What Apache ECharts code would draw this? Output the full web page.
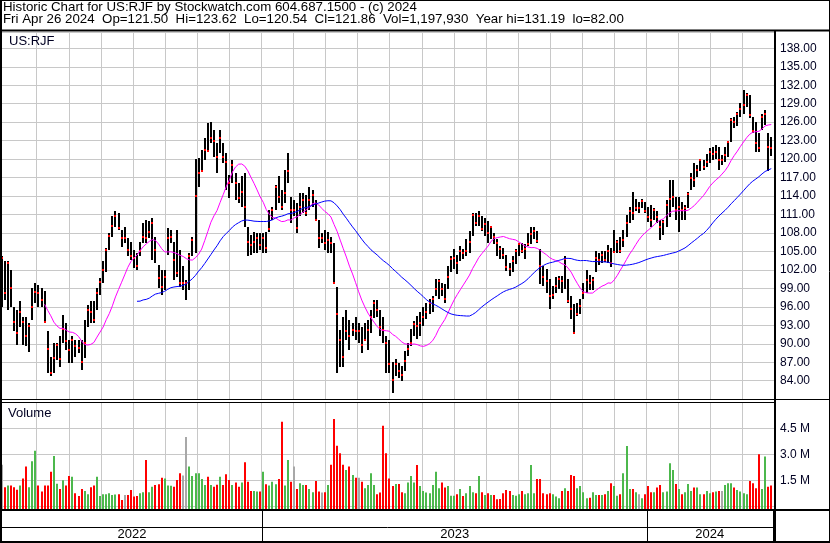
<!DOCTYPE html>
<html>
<head>
<meta charset="utf-8">
<script src="https://cdn.jsdelivr.net/npm/echarts@6/dist/echarts.min.js"></script>
<style>
html,body{margin:0;padding:0;background:#fff;}
#chart{width:830px;height:543px;}
</style>
</head>
<body>
<div id="chart"></div>
<script>
// ---- data (each bar = two trading days) ----
const HIGH = [104.3,103.4,103.4,102.0,96.0,95.5,96.9,94.4,94.4,93.3,99.0,99.8,99.6,99.0,98.5,92.0,87.9,90.1,90.1,91.2,
94.7,93.3,90.6,91.2,90.6,90.6,90.6,93.9,96.3,96.9,96.9,99.0,100.7,103.4,105.5,108.0,110.7,111.5,111.2,108.5,
109.0,107.2,106.6,105.3,104.7,106.6,109.6,110.1,109.9,110.4,107.4,102.8,102.0,102.0,108.8,108.5,106.6,108.5,105.3,102.6,
100.4,104.7,107.4,120.0,120.2,121.5,123.4,125.8,126.1,124.8,122.6,124.8,122.6,121.0,117.4,119.9,117.7,116.1,117.2,117.7,
109.0,107.7,108.2,108.0,108.0,108.0,108.2,111.8,112.3,115.8,117.2,115.0,118.3,121.0,113.9,113.4,112.8,114.5,114.5,114.2,
115.5,115.0,113.4,110.1,108.0,108.5,108.2,107.4,106.3,99.3,92.3,94.4,95.5,93.9,93.3,94.4,93.3,92.8,93.3,93.9,
95.5,97.1,97.1,95.5,94.4,91.2,90.6,87.0,87.5,86.9,86.4,88.8,90.2,92.4,93.7,94.5,95.1,95.9,96.7,97.2,
97.8,100.5,100.5,99.9,99.7,102.6,104.3,105.4,104.5,105.9,105.4,107.0,108.3,111.3,111.3,111.6,110.8,110.5,110.0,109.1,
108.0,107.0,105.9,105.6,104.5,103.2,104.3,105.4,106.4,106.4,106.2,108.0,108.9,108.9,108.3,105.4,102.6,102.1,100.5,99.4,
100.8,101.0,101.0,104.3,100.5,97.8,96.4,96.7,97.2,99.9,102.0,101.2,100.9,105.0,104.7,105.0,105.0,106.1,105.5,108.5,
106.9,107.4,108.5,110.9,112.3,114.7,113.6,113.1,113.6,113.1,112.3,112.5,112.0,111.5,110.1,110.1,113.4,116.6,116.6,113.9,
113.9,113.1,112.5,114.7,117.7,119.3,119.1,120.1,119.9,120.9,121.8,122.0,122.3,122.0,120.7,122.0,122.8,126.6,126.9,127.7,
129.1,131.19,130.7,130.4,126.9,126.1,124.2,127.4,128.0,124.2,123.62];
const LOW = [96.0,97.1,95.5,96.0,92.0,89.8,92.8,89.8,89.6,88.7,93.9,96.6,96.0,96.0,93.3,85.2,84.7,85.2,87.4,86.3,
90.1,89.0,86.9,86.9,87.9,88.5,85.8,87.7,92.8,93.3,93.3,95.5,98.0,99.8,101.7,105.3,107.4,109.0,108.5,105.8,
106.3,104.2,103.6,102.3,102.0,104.2,106.3,106.3,107.2,103.6,103.1,99.0,98.0,98.8,104.4,106.3,100.4,100.9,99.3,98.8,
97.1,98.8,104.2,104.7,115.5,118.0,119.9,121.2,122.6,120.4,117.7,121.0,119.3,115.0,113.7,116.1,113.4,112.8,112.3,109.0,
104.2,104.4,104.7,104.7,105.3,104.7,104.7,108.2,110.1,111.8,112.8,111.8,112.8,116.1,109.6,110.7,108.0,110.7,111.2,110.7,
111.8,112.3,110.1,105.5,106.3,105.3,104.7,104.7,99.8,85.2,86.3,86.3,90.6,89.0,91.2,90.6,90.1,88.5,90.6,89.0,
91.7,94.2,94.4,91.2,90.1,85.2,85.3,82.0,84.8,84.5,84.0,85.6,88.0,89.7,91.3,90.7,91.3,92.9,94.0,94.8,
95.1,97.8,97.2,97.8,96.7,98.9,101.6,102.1,101.3,103.5,103.7,104.3,104.8,107.5,109.1,109.1,108.3,107.5,106.4,107.0,
106.2,104.3,103.7,103.7,101.8,101.0,101.6,102.9,104.3,104.8,103.7,105.9,106.2,107.0,106.4,99.7,99.4,98.3,95.6,97.2,
98.3,98.9,98.3,98.9,96.7,94.0,91.8,94.5,94.8,97.2,98.2,98.7,98.7,101.7,102.8,103.1,103.3,103.1,102.5,104.7,
104.7,104.7,105.8,107.4,109.6,110.1,111.5,111.2,112.0,111.2,109.8,109.0,110.1,109.6,106.9,107.7,109.0,110.6,112.3,110.1,
108.2,110.1,110.1,112.0,115.0,115.5,117.1,118.0,118.2,118.8,119.3,119.9,120.1,118.2,119.1,119.6,120.4,122.8,125.0,125.3,
126.9,127.4,128.5,126.6,124.2,121.2,121.2,124.7,125.5,118.0,120.54];
const CLOSE = [104.0,98.3,103.2,99.0,93.6,91.8,95.1,93.6,91.3,92.9,96.0,98.4,98.3,97.1,93.5,89.2,85.2,87.7,89.8,87.5,
92.4,90.4,89.0,90.6,89.6,89.3,87.1,90.1,95.5,95.2,93.9,98.2,100.0,102.0,105.3,107.5,109.2,110.7,108.8,107.2,
107.2,105.3,104.2,103.9,102.6,105.0,107.4,107.2,108.1,109.6,105.3,100.7,99.3,100.9,107.2,107.4,103.6,101.5,99.8,99.8,
99.8,104.2,106.9,114.0,117.7,118.0,121.5,121.4,123.4,122.9,120.4,123.4,120.4,119.5,116.1,119.1,116.1,113.7,114.6,112.3,
106.6,106.0,106.6,107.2,106.0,107.2,105.5,108.6,111.8,115.5,113.9,112.3,114.5,118.0,111.8,111.8,108.8,112.3,113.4,111.2,
113.4,114.2,110.1,107.2,107.2,106.3,106.9,106.3,99.8,94.9,90.6,87.9,92.0,91.2,92.3,92.0,92.0,89.8,90.6,92.3,
94.4,96.6,95.5,92.8,92.3,90.1,86.7,84.2,86.7,85.6,85.0,87.2,89.1,90.2,93.2,92.9,93.4,94.3,95.1,96.7,
97.2,98.9,100.2,98.9,97.2,100.8,103.8,104.0,103.2,105.1,104.8,105.1,106.5,111.0,109.7,110.8,108.6,109.4,108.0,108.9,
107.3,106.4,105.4,104.5,102.4,102.1,103.5,105.1,106.2,105.1,105.4,106.2,107.8,108.3,106.7,102.6,100.8,100.2,97.8,98.0,
99.4,100.5,100.2,103.7,96.9,95.6,91.8,94.8,96.1,98.3,100.4,99.8,100.4,103.9,103.6,104.4,103.6,105.0,103.1,104.9,
106.6,105.0,106.9,109.6,111.5,111.2,112.0,112.0,113.2,111.5,110.6,110.1,111.7,110.6,109.0,109.8,112.5,113.6,113.9,111.7,
112.3,111.7,112.0,114.4,116.9,116.6,118.2,119.9,118.8,119.6,121.2,120.9,121.2,119.9,119.9,120.7,122.7,126.4,126.1,127.4,
128.2,128.8,130.4,127.2,124.5,122.6,121.8,126.9,127.4,122.0,121.86];
// volume in millions of shares
const VOLUME = [2.4,1.1,1.2,1.2,1.1,0.95,1.2,1.6,2.3,1.1,2.6,3.2,1.2,0.85,1.2,1.2,2.0,2.9,1.3,1.0,
1.5,1.2,1.75,1.7,0.75,0.6,1.0,0.88,0.7,1.1,1.2,1.7,0.6,0.7,0.7,0.75,0.65,0.68,0.69,0.37,
0.65,0.65,0.94,0.56,0.6,0.75,0.81,2.67,0.81,1.13,1.23,1.27,1.65,1.6,1.2,1.19,1.13,1.52,1.9,1.77,
4.0,2.3,1.75,1.9,1.9,1.58,1.23,1.71,1.23,1.13,1.25,1.71,1.23,1.85,1.52,1.23,1.38,1.13,1.38,2.54,
1.42,0.88,0.88,0.85,0.85,2.0,1.27,1.2,1.42,1.27,1.58,4.88,1.2,2.67,1.42,2.29,1.0,1.33,1.23,1.23,
1.0,0.81,1.46,0.85,0.8,0.81,1.23,2.4,5.04,3.5,3.06,2.4,2.1,2.3,1.8,1.65,1.65,1.42,1.04,1.23,
1.9,1.23,0.69,0.8,4.65,3.06,1.6,1.17,1.29,1.29,0.81,0.75,1.38,1.75,1.38,2.38,1.17,0.88,0.8,0.75,
1.23,2.0,1.04,1.38,1.08,1.17,0.61,0.61,0.7,1.0,0.6,0.75,1.17,0.81,0.75,1.75,0.81,0.65,0.75,0.65,
0.65,0.4,0.42,0.75,0.94,0.88,0.65,0.61,0.69,0.88,0.69,0.75,2.38,0.75,1.58,1.58,0.75,0.69,0.75,0.69,
0.56,0.46,0.88,1.04,0.88,1.81,1.75,1.04,1.17,0.81,0.46,0.5,0.81,0.65,0.65,0.65,0.69,0.88,1.33,1.17,
0.61,0.69,1.9,3.48,1.0,1.0,0.81,0.69,0.46,0.69,1.17,0.81,0.81,1.08,1.23,0.81,0.85,2.48,2.1,1.29,
1.0,0.69,0.81,1.29,0.88,1.08,1.08,0.69,0.69,0.88,0.75,0.81,0.85,0.88,0.88,1.23,1.33,1.33,1.08,0.94,
0.85,0.75,0.69,1.46,1.33,1.04,3.0,1.0,2.87,1.13,1.2];
const YEARS = ['2022','2023','2024'];
const YEAR_START = [0, 85, 210];       // bar index where each year begins
const MA_SHORT = 15, MA_LONG = 45;     // 30 and 90 trading days
const HEADER1 = 'Historic Chart for US:RJF by Stockwatch.com 604.687.1500 - (c) 2024';
const HEADER2 = 'Fri Apr 26 2024  Op=121.50  Hi=123.62  Lo=120.54  Cl=121.86  Vol=1,197,930  Year hi=131.19  lo=82.00';

// ---- derived ----
const N = CLOSE.length;
const idx = CLOSE.map((_, i) => i);
function sma(arr, n) {
  return arr.map((_, i) => {
    if (i < n - 1) return '-';
    let s = 0; for (let k = i - n + 1; k <= i; k++) s += arr[k];
    return +(s / n).toFixed(3);
  });
}
const ohlc = idx.map(i => [i, HIGH[i], LOW[i], CLOSE[i]]);
const volData = idx.map(i => {
  const dir = i === 0 ? 0 : Math.sign(CLOSE[i] - CLOSE[i - 1]);
  return [i, VOLUME[i], dir];
});
const yearMid = YEAR_START.map((s, k) => Math.floor((s + (k + 1 < YEAR_START.length ? YEAR_START[k + 1] : N)) / 2));
const yearCats = idx.map(i => { const k = yearMid.indexOf(i); return k >= 0 ? YEARS[k] : ''; });
const gridCats = Array.from({length: 25}, (_, k) => String(k));

const FONT = '"Liberation Sans", Arial, sans-serif';
const GRID_COLOR = '#c8c8c8';
const PLOT_W = 772.8;

const chart = echarts.init(document.getElementById('chart'), null, {renderer: 'canvas'});
const hidden = {show: false};
const catHidden = (data) => ({type: 'category', data, show: false, boundaryGap: true});

chart.setOption({
  animation: false,
  backgroundColor: '#fff',
  grid: [
    {left: 0, width: PLOT_W, top: 32, height: 367.2},          // 0 price data
    {left: 2, right: 55, top: 32, height: 367.2},              // 1 price h-grid + labels
    {left: 4.6, right: 55.2, top: 32, height: 367.2},          // 2 price v-grid
    {left: 0, width: PLOT_W, top: 402.3, height: 106.7},       // 3 volume data
    {left: 2, right: 55, top: 402.3, height: 104},             // 4 volume h-grid + labels
    {left: 4.6, right: 55.2, top: 402.3, height: 107},         // 5 volume v-grid
    {left: 0, width: PLOT_W, top: 511, height: 30}             // 6 year band
  ],
  xAxis: [
    Object.assign(catHidden(idx), {gridIndex: 0}),
    {type: 'value', gridIndex: 1, show: false},
    {type: 'category', gridIndex: 2, data: gridCats, boundaryGap: false,
      axisLine: hidden, axisTick: hidden, axisLabel: hidden,
      splitLine: {show: true, interval: (i) => i > 0 && i < 24, lineStyle: {color: GRID_COLOR, width: 1}}},
    Object.assign(catHidden(idx), {gridIndex: 3}),
    {type: 'value', gridIndex: 4, show: false},
    {type: 'category', gridIndex: 5, data: gridCats, boundaryGap: false,
      axisLine: hidden, axisTick: hidden, axisLabel: hidden,
      splitLine: {show: true, interval: (i) => i > 0 && i < 24, lineStyle: {color: GRID_COLOR, width: 1}}},
    {type: 'category', gridIndex: 6, data: yearCats, boundaryGap: true, position: 'bottom',
      axisLine: hidden, axisTick: hidden,
      axisLabel: {show: true, inside: true, interval: 0, margin: 0, color: '#000', fontSize: 13, fontFamily: FONT},
      splitLine: {show: true, interval: (i) => YEAR_START.indexOf(i) > 0, lineStyle: {color: '#000', width: 1}}}
  ],
  yAxis: [
    {type: 'value', gridIndex: 0, min: 81, max: 140.65, show: false},
    {type: 'value', gridIndex: 1, position: 'right', min: 81, max: 140.65, interval: 3,
      axisLine: hidden, axisTick: hidden,
      axisLabel: {margin: 5, color: '#000022', fontSize: 12, fontFamily: FONT, showMinLabel: false, showMaxLabel: false,
        formatter: v => v.toFixed(2)},
      splitLine: {show: true, lineStyle: {color: GRID_COLOR, width: 1}}},
    {type: 'value', gridIndex: 2, show: false},
    {type: 'value', gridIndex: 3, min: -0.156, max: 6.0, show: false},
    {type: 'value', gridIndex: 4, position: 'right', min: 0, max: 6.0, interval: 1.5,
      axisLine: hidden, axisTick: hidden,
      axisLabel: {margin: 5, color: '#000022', fontSize: 12, fontFamily: FONT, showMinLabel: false, showMaxLabel: false,
        formatter: v => v.toFixed(1) + ' M'},
      splitLine: {show: true, lineStyle: {color: GRID_COLOR, width: 1}}},
    {type: 'value', gridIndex: 5, show: false},
    {type: 'value', gridIndex: 6, show: false}
  ],
  series: [
    {
      type: 'custom', xAxisIndex: 0, yAxisIndex: 0, z: 3, clip: false,
      data: ohlc,
      renderItem: (params, api) => {
        const hi = api.coord([api.value(0), api.value(1)]);
        const lo = api.coord([api.value(0), api.value(2)]);
        const cl = api.coord([api.value(0), api.value(3)]);
        const x = Math.round(hi[0]);
        return {type: 'group', children: [
          {type: 'line', shape: {x1: x, y1: Math.round(hi[1]), x2: x, y2: Math.round(lo[1])},
            style: {stroke: '#000', lineWidth: 2}},
          {type: 'rect', shape: {x: x - 1, y: Math.round(cl[1]) - 1, width: 2, height: 2},
            style: {fill: '#ff0000'}}
        ]};
      }
    },
    {type: 'line', xAxisIndex: 0, yAxisIndex: 0, z: 4, data: sma(CLOSE, MA_SHORT), showSymbol: false,
      lineStyle: {color: '#ff00ff', width: 1}, itemStyle: {color: '#ff00ff'}},
    {type: 'line', xAxisIndex: 0, yAxisIndex: 0, z: 4, data: sma(CLOSE, MA_LONG), showSymbol: false,
      lineStyle: {color: '#0000ff', width: 1}, itemStyle: {color: '#0000ff'}},
    {
      type: 'custom', xAxisIndex: 3, yAxisIndex: 3, z: 3,
      data: volData,
      renderItem: (params, api) => {
        const top = api.coord([api.value(0), api.value(1)]);
        const base = api.coord([api.value(0), -0.156]);
        const d = api.value(2);
        const x = Math.round(top[0]);
        return {type: 'rect', shape: {x: x - 1, y: top[1], width: 2, height: base[1] - top[1]},
          style: {fill: d > 0 ? '#4cb84c' : (d < 0 ? '#ff0000' : '#a8a8a8')}};
      }
    }
  ],
  graphic: [
    {type: 'text', x: 3, y: 7, z: 10, style: {text: HEADER1, font: '13.3px ' + FONT, fill: '#000', verticalAlign: 'middle', align: 'left'}},
    {type: 'text', x: 3, y: 19, z: 10, style: {text: HEADER2, font: '13.3px ' + FONT, fill: '#000', verticalAlign: 'middle', align: 'left'}},
    {type: 'text', x: 9, y: 41, z: 10, style: {text: 'US:RJF', font: '13px ' + FONT, fill: '#000022', verticalAlign: 'middle', align: 'left'}},
    {type: 'text', x: 8, y: 413, z: 10, style: {text: 'Volume', font: '13px ' + FONT, fill: '#000022', verticalAlign: 'middle', align: 'left'}},
    // frame
    {type: 'line', z: 20, shape: {x1: 0, y1: 0.5, x2: 830, y2: 0.5}, style: {stroke: '#000', lineWidth: 1}},
    {type: 'line', z: 20, shape: {x1: 1, y1: 0, x2: 1, y2: 543}, style: {stroke: '#000', lineWidth: 2}},
    {type: 'line', z: 20, shape: {x1: 829.5, y1: 0, x2: 829.5, y2: 543}, style: {stroke: '#000', lineWidth: 1}},
    {type: 'line', z: 20, shape: {x1: 0, y1: 30.5, x2: 830, y2: 30.5}, style: {stroke: '#000', lineWidth: 2}},
    {type: 'line', z: 20, shape: {x1: 775, y1: 30, x2: 775, y2: 543}, style: {stroke: '#000', lineWidth: 2}},
    {type: 'line', z: 20, shape: {x1: 0, y1: 399.5, x2: 830, y2: 399.5}, style: {stroke: '#000', lineWidth: 1}},
    {type: 'line', z: 20, shape: {x1: 0, y1: 402.5, x2: 775, y2: 402.5}, style: {stroke: '#000', lineWidth: 1}},
    {type: 'line', z: 20, shape: {x1: 0, y1: 510, x2: 830, y2: 510}, style: {stroke: '#000', lineWidth: 2}},
    {type: 'line', z: 20, shape: {x1: 0, y1: 527.5, x2: 775, y2: 527.5}, style: {stroke: '#000', lineWidth: 1}},
    {type: 'line', z: 20, shape: {x1: 0, y1: 542, x2: 830, y2: 542}, style: {stroke: '#000', lineWidth: 2}}
  ]
});
</script>
</body>
</html>
